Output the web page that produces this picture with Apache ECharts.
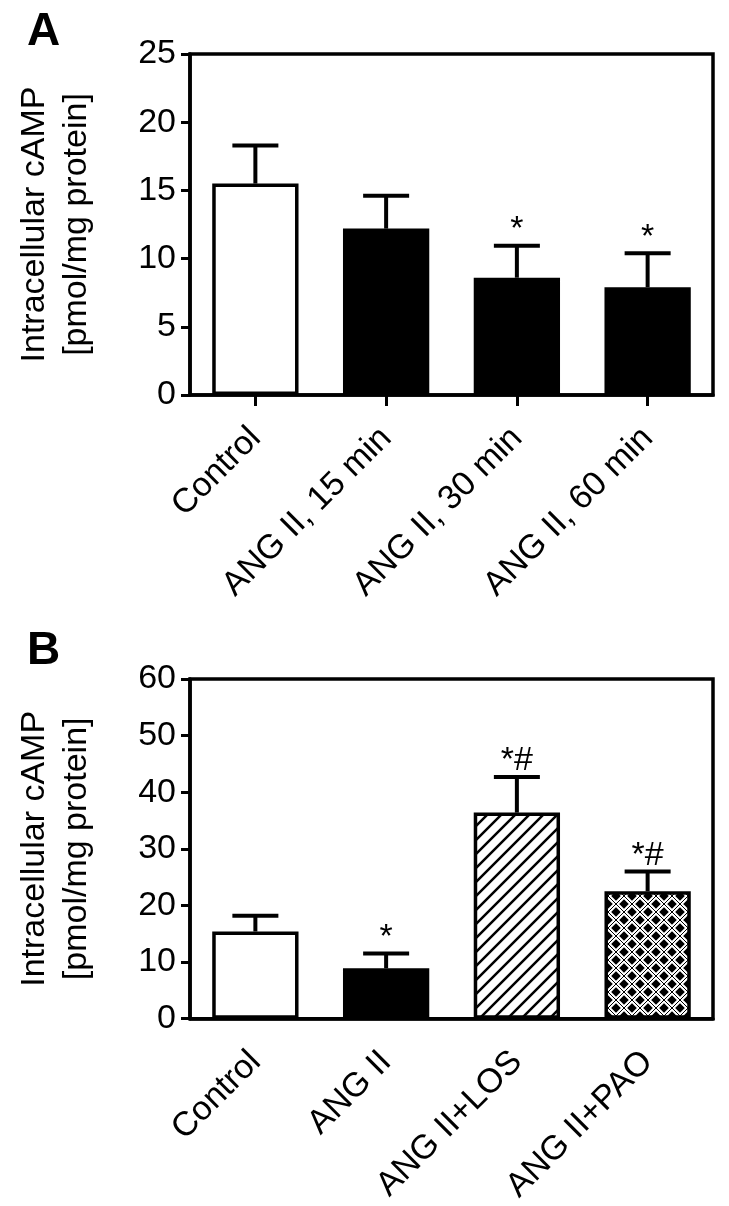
<!DOCTYPE html>
<html>
<head>
<meta charset="utf-8">
<script src="https://cdn.jsdelivr.net/npm/echarts@6/dist/echarts.min.js"></script>
<style>
  html, body { margin: 0; padding: 0; background: #fff; }
  #chart { width: 729px; height: 1206px; }
</style>
</head>
<body>
<div id="chart"></div>
<script>
// panel A
var catsA = ['Control', 'ANG II, 15 min', 'ANG II, 30 min', 'ANG II, 60 min']
var meanA = [15.5, 12.2, 8.6, 7.9]
var errA = [18.3, 14.6, 10.95, 10.4]
var sigA = ['', '', '*', '*']
var ticksA = [0, 5, 10, 15, 20, 25]

// panel B
var catsB = ['Control', 'ANG II', 'ANG II+LOS', 'ANG II+PAO']
var meanB = [15.4, 8.9, 36.4, 22.5]
var errB = [18.2, 11.5, 42.7, 26.0]
var sigB = ['', '*', '*#', '*#']
var ticksB = [0, 10, 20, 30, 40, 50, 60]

var FONT = '"Liberation Sans", Arial, Helvetica, sans-serif'

// hatch ///
function hatch() {
  var c = document.createElement('canvas')
  var s = 14
  c.width = s; c.height = s
  var g = c.getContext('2d')
  g.fillStyle = '#fff'
  g.fillRect(0, 0, s, s)
  g.strokeStyle = '#000'
  g.lineWidth = 2.5
  g.beginPath()
  g.moveTo(-2, s + 2); g.lineTo(s + 2, -2)
  g.moveTo(-2, 2); g.lineTo(2, -2)
  g.moveTo(s - 2, s + 2); g.lineTo(s + 2, s - 2)
  g.stroke()
  return c
}

// black diamonds in a white lattice
function diamonds() {
  var c = document.createElement('canvas')
  var s = 16
  c.width = s; c.height = s
  var g = c.getContext('2d')
  g.fillStyle = '#000'
  g.fillRect(0, 0, s, s)
  g.beginPath()
  g.moveTo(0, 0); g.lineTo(s, s)
  g.moveTo(0, s); g.lineTo(s, 0)
  g.strokeStyle = '#fff'
  g.lineWidth = 4.5
  g.stroke()
  g.strokeStyle = '#000'
  g.lineWidth = 1
  g.stroke()
  return c
}

var fillsA = ['#fff', '#000', '#000', '#000']
var fillsB = ['#fff', '#000', { image: hatch(), repeat: 'repeat' }, { image: diamonds(), repeat: 'repeat' }]

function barData(vals, fills) {
  return vals.map(function (v, i) {
    return { value: v, itemStyle: { color: fills[i] } }
  })
}

function errData(mean, err) {
  return mean.map(function (m, i) { return [i, m, err[i]] })
}

function errRender(sig) {
  return function (params, api) {
    var i = api.value(0)
    var p0 = api.coord([i, api.value(1)])
    var p1 = api.coord([i, api.value(2)])
    var st = { stroke: '#000', lineWidth: 4 }
    var kids = [
      { type: 'line', shape: { x1: p0[0], y1: p0[1], x2: p1[0], y2: p1[1] }, style: st },
      { type: 'line', shape: { x1: p1[0] - 23, y1: p1[1], x2: p1[0] + 23, y2: p1[1] }, style: st }
    ]
    var s = sig[params.dataIndex]
    if (s) {
      kids.push({
        type: 'text',
        style: {
          text: s, x: p1[0], y: p1[1] + 1,
          align: 'center', verticalAlign: 'bottom',
          font: '34px ' + FONT, fill: '#000'
        }
      })
    }
    return { type: 'group', children: kids }
  }
}

function yAxis(idx, ticks) {
  return {
    type: 'value',
    gridIndex: idx,
    min: ticks[0],
    max: ticks[ticks.length - 1],
    interval: ticks[1] - ticks[0],
    name: 'Intracellular cAMP\n[pmol/mg protein]',
    nameLocation: 'middle',
    nameGap: 92,
    nameTextStyle: { fontSize: 34, fontFamily: FONT, color: '#000', lineHeight: 42 },
    axisLine: { show: true, lineStyle: { color: '#000', width: 3.5 } },
    axisTick: { show: true, length: 9, lineStyle: { color: '#000', width: 3 } },
    axisLabel: { fontSize: 34, fontFamily: FONT, color: '#000', margin: 14 },
    splitLine: { show: false }
  }
}

function xAxis(idx, cats, ticks) {
  return {
    type: 'category',
    gridIndex: idx,
    data: cats,
    axisLine: { show: true, lineStyle: { color: '#000', width: 3.5 } },
    axisTick: { show: ticks, alignWithLabel: true, length: 11, lineStyle: { color: '#000', width: 3 } },
    axisLabel: { rotate: 45, fontSize: 34, fontFamily: FONT, color: '#000', margin: 38, interval: 0 }
  }
}

var chart = echarts.init(document.getElementById('chart'))
chart.setOption({
  animation: false,
  backgroundColor: '#fff',
  graphic: [
    { type: 'text', left: 27, top: 9, style: { text: 'A', font: 'bold 46px ' + FONT, fill: '#000' } },
    { type: 'text', left: 27, top: 628, style: { text: 'B', font: 'bold 46px ' + FONT, fill: '#000' } }
  ],
  grid: [
    { left: 190, right: 16, top: 54, height: 341, show: true, borderColor: '#000', borderWidth: 3.5 },
    { left: 190, right: 16, top: 679, height: 343, show: true, borderColor: '#000', borderWidth: 3.5 }
  ],
  xAxis: [xAxis(0, catsA, true), xAxis(1, catsB, false)],
  yAxis: [yAxis(0, ticksA), yAxis(1, ticksB)],
  series: [
    {
      type: 'bar', xAxisIndex: 0, yAxisIndex: 0, barWidth: '66%',
      data: barData(meanA, fillsA),
      itemStyle: { borderColor: '#000', borderWidth: 3.5 }
    },
    {
      type: 'custom', xAxisIndex: 0, yAxisIndex: 0,
      renderItem: errRender(sigA), data: errData(meanA, errA), z: 3
    },
    {
      type: 'bar', xAxisIndex: 1, yAxisIndex: 1, barWidth: '66%',
      data: barData(meanB, fillsB),
      itemStyle: { borderColor: '#000', borderWidth: 3.5 }
    },
    {
      type: 'custom', xAxisIndex: 1, yAxisIndex: 1,
      renderItem: errRender(sigB), data: errData(meanB, errB), z: 3
    }
  ]
})
</script>
</body>
</html>
